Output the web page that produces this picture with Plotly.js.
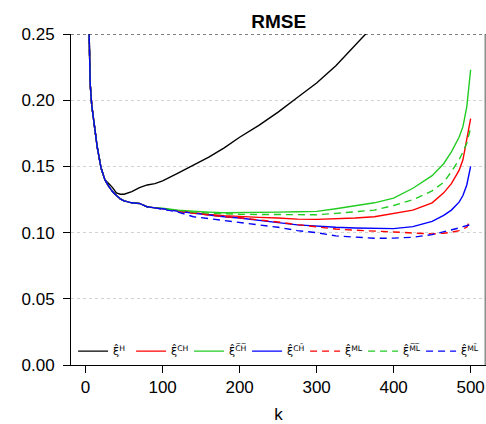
<!DOCTYPE html>
<html>
<head>
<meta charset="utf-8">
<script src="https://cdn.plot.ly/plotly-3.0.1.min.js"></script>
<style>html,body{margin:0;padding:0;background:#fff;}#chart{width:486px;height:424px;}</style>
</head>
<body>
<div id="chart"></div>
<script>
// shared early part (k = 2..90), all estimators nearly identical
const kEarly = [2, 4, 6, 8, 10, 12, 15, 20, 25, 30, 35, 40, 45, 50, 60, 70, 80, 90];
const vEarly = [0.32, 0.25, 0.212, 0.196, 0.186, 0.177, 0.165, 0.149, 0.140, 0.135, 0.131, 0.128, 0.1255, 0.124, 0.1225, 0.122, 0.1195, 0.1187];

// later k grid
const kLate = [100, 120, 140, 160, 180, 200, 225, 250, 275, 300, 325, 350, 375, 400, 425, 450, 465, 475, 485, 490, 495, 500];

const xiCH  = [0.118, 0.1162, 0.1148, 0.1138, 0.1128, 0.112, 0.1115, 0.111, 0.1102, 0.110, 0.1103, 0.111, 0.112, 0.1145, 0.117, 0.1225, 0.130, 0.137, 0.147, 0.155, 0.170, 0.186];
const xiCHbar = [0.1185, 0.117, 0.116, 0.1155, 0.115, 0.115, 0.1153, 0.1155, 0.1157, 0.116, 0.118, 0.120, 0.1225, 0.126, 0.1335, 0.143, 0.152, 0.161, 0.172, 0.180, 0.195, 0.223];
const xiCHtil = [0.118, 0.116, 0.1145, 0.1133, 0.112, 0.111, 0.1095, 0.1075, 0.1058, 0.1048, 0.104, 0.1035, 0.103, 0.103, 0.1045, 0.1085, 0.113, 0.117, 0.123, 0.128, 0.136, 0.150];
const xiML  = [0.118, 0.116, 0.1145, 0.1133, 0.112, 0.1112, 0.1097, 0.108, 0.106, 0.1045, 0.1027, 0.1018, 0.1013, 0.1005, 0.0997, 0.099, 0.0995, 0.1002, 0.1015, 0.1025, 0.104, 0.110];
const xiMLbar = [0.118, 0.1165, 0.1155, 0.1148, 0.1142, 0.1138, 0.1137, 0.1135, 0.1133, 0.1135, 0.1145, 0.1158, 0.117, 0.1205, 0.1248, 0.1315, 0.138, 0.146, 0.155, 0.161, 0.1675, 0.179];
const xiMLtil = [0.1175, 0.1155, 0.112, 0.1105, 0.109, 0.1078, 0.1058, 0.104, 0.1015, 0.100, 0.0975, 0.0965, 0.0957, 0.0958, 0.0965, 0.0985, 0.1005, 0.102, 0.1035, 0.1045, 0.1055, 0.106];

// Hill estimator
const kH = [2, 4, 6, 8, 10, 12, 15, 20, 25, 30, 35, 40, 45, 50, 55, 60, 70, 80, 90, 100, 120, 140, 160, 180, 200, 225, 250, 275, 300, 325, 350, 375, 400, 450, 500];
const xiH = [0.32, 0.25, 0.212, 0.196, 0.186, 0.177, 0.165, 0.149, 0.140, 0.137, 0.134, 0.130, 0.129, 0.129, 0.130, 0.131, 0.134, 0.136, 0.137, 0.139, 0.145, 0.151, 0.157, 0.164, 0.172, 0.181, 0.191, 0.202, 0.213, 0.226, 0.241, 0.257, 0.275, 0.31, 0.35];

const labels = ["ξ\u0302<sup>H</sup>", "ξ\u0302<sup>CH</sup>", "ξ\u0302<sup>C\u0305H\u0305</sup>", "ξ\u0302<sup>CH\u0303</sup>", "ξ\u0302<sup>ML</sup>", "ξ\u0302<sup>M\u0305L\u0305</sup>", "ξ\u0302<sup>ML\u0303</sup>"];

const k = kEarly.concat(kLate);
function full(arr) { return vEarly.concat(arr); }

const red = "#FF0000", green = "#22CC22", blue = "#0000FF";
const dash = "7px,5px";
const traces = [
  {x: kH, y: xiH, name: labels[0], line: {color: "#000000", width: 1.4}},
  {x: k, y: full(xiCH), name: labels[1], line: {color: red, width: 1.4}},
  {x: k, y: full(xiCHbar), name: labels[2], line: {color: green, width: 1.4}},
  {x: k, y: full(xiCHtil), name: labels[3], line: {color: blue, width: 1.4}},
  {x: k, y: full(xiML), name: labels[4], line: {color: red, width: 1.4, dash: dash}},
  {x: k, y: full(xiMLbar), name: labels[5], line: {color: green, width: 1.4, dash: dash}},
  {x: k, y: full(xiMLtil), name: labels[6], line: {color: blue, width: 1.4, dash: dash}}
].map(t => Object.assign({type: "scatter", mode: "lines"}, t));

const font = "Liberation Sans, Arial, Helvetica, sans-serif";
const layout = {
  width: 486, height: 424,
  margin: {l: 71, r: 0, t: 34, b: 59, pad: 0, autoexpand: false},
  paper_bgcolor: "#fff", plot_bgcolor: "#fff",
  font: {family: font, size: 17, color: "#000"},
  title: {text: "<b>RMSE</b>", font: {size: 19, family: font, color: "#000"}, x: 0.5735, xanchor: "center", xref: "container", y: 0.949, yanchor: "middle", yref: "container"},
  xaxis: {
    range: [-18.96, 519.96], tickvals: [0, 100, 200, 300, 400, 500],
    ticks: "outside", ticklen: 7, tickwidth: 1, tickcolor: "#000",
    showline: true, linecolor: "#000", linewidth: 1,
    showgrid: false, zeroline: false,
    title: {text: "k", font: {size: 17, family: font}, standoff: 14},
    tickfont: {size: 17, family: font}
  },
  yaxis: {
    range: [0, 0.25], tickvals: [0, 0.05, 0.1, 0.15, 0.2, 0.25], tickformat: ".2f",
    ticks: "outside", ticklen: 7, tickwidth: 1, tickcolor: "#000",
    ticklabelstandoff: 5,
    showline: true, linecolor: "#000", linewidth: 1,
    showgrid: true, gridcolor: "#d2d2d2", griddash: "dot", gridwidth: 1,
    zeroline: false,
    tickfont: {size: 17, family: font}
  },
  shapes: [
    {type: "line", xref: "paper", yref: "y", x0: 0, x1: 1, y0: 0.25, y1: 0.25, line: {color: "#000", width: 1, dash: "dot"}},
    {type: "line", xref: "paper", yref: "paper", x0: 0.998, x1: 0.998, y0: 0, y1: 1, line: {color: "#555", width: 1}}
  ],
  showlegend: true,
  legend: {
    orientation: "h", x: 0.005, xanchor: "left", y: 0.042, yanchor: "middle",
    bgcolor: "rgba(0,0,0,0)", borderwidth: 0,
    font: {size: 11, family: "DejaVu Sans, sans-serif", color: "#000"},
    itemwidth: 30, entrywidth: 13, entrywidthmode: "pixels",
    tracegroupgap: 0
  }
};

Plotly.newPlot("chart", traces, layout, {staticPlot: true, displayModeBar: false});
</script>
</body>
</html>
